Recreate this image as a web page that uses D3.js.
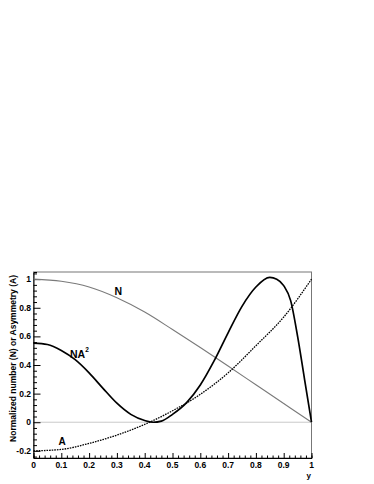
<!DOCTYPE html>
<html>
<head>
<meta charset="utf-8">
<script src="https://cdn.jsdelivr.net/npm/d3@7"></script>
<style>
  html, body { margin: 0; padding: 0; background: #fff; }
  svg { display: block; }
  text { font-family: "Liberation Sans", Arial, Helvetica, sans-serif; font-weight: bold; }
</style>
</head>
<body>
<svg id="chart" width="374" height="484"></svg>
<script>
// values
const ySamples = [0, 0.1, 0.2, 0.3, 0.4, 0.5, 0.6, 0.7, 0.8, 0.9, 1.0];
const nValues = [1.0, 0.985, 0.945, 0.87, 0.77, 0.648, 0.522, 0.393, 0.262, 0.131, 0];
const aValues = [-0.2, -0.19, -0.148, -0.09, -0.015, 0.08, 0.195, 0.345, 0.535, 0.735, 1.0];

const na2Y = [0, 0.05, 0.1, 0.15, 0.2, 0.25, 0.3, 0.35, 0.4, 0.43, 0.46, 0.5, 0.55, 0.6, 0.65, 0.7, 0.75, 0.8, 0.85, 0.875, 0.9, 0.925, 0.95, 0.975, 1.0];
const na2Values = [0.553, 0.543, 0.502, 0.437, 0.345, 0.237, 0.133, 0.055, 0.012, 0.0, 0.008, 0.055, 0.135, 0.26, 0.43, 0.625, 0.81, 0.945, 1.012, 1.0, 0.955, 0.85, 0.6, 0.3, 0];

const xMajor = [0, 0.1, 0.2, 0.3, 0.4, 0.5, 0.6, 0.7, 0.8, 0.9, 1];
const yMajor = [-0.2, 0, 0.2, 0.4, 0.6, 0.8, 1];
const xLabels = ["0", "0.1", "0.2", "0.3", "0.4", "0.5", "0.6", "0.7", "0.8", "0.9", "1"];
const yLabels = ["-0.2", "0", "0.2", "0.4", "0.6", "0.8", "1"];

const svg = d3.select("#chart");

// frame in pixels
const frameL = 33.5, frameR = 311.5, frameT = 272, frameB = 458;

const x = d3.scaleLinear().domain([0, 1]).range([frameL, frameR]);
const y = d3.scaleLinear().domain([-0.25, 1.05]).range([frameB, frameT]);

// frame (top/right grey)
svg.append("rect")
  .attr("x", frameL).attr("y", frameT)
  .attr("width", frameR - frameL).attr("height", frameB - frameT)
  .attr("fill", "none")
  .attr("stroke", "#777")
  .attr("stroke-width", 1);

// zero line
svg.append("line")
  .attr("x1", x(0)).attr("x2", x(1))
  .attr("y1", y(0)).attr("y2", y(0))
  .attr("stroke", "#777")
  .attr("stroke-width", 0.8)
  .attr("stroke-dasharray", "1,1");

// axes, ticks drawn inside
const xMinor = d3.range(0, 1.0001, 0.02).filter(v => Math.abs(v * 10 - Math.round(v * 10)) > 1e-6);
const yMinor = d3.range(-0.24, 1.0401, 0.04).filter(v => Math.abs(v * 5 - Math.round(v * 5)) > 1e-6);

const gx = svg.append("g").attr("transform", `translate(0,${frameB})`);
gx.call(d3.axisTop(x).tickValues(xMajor).tickSize(5).tickFormat(""));
gx.append("g").call(d3.axisTop(x).tickValues(xMinor).tickSize(2.5).tickFormat(""));
gx.selectAll("path.domain").attr("stroke", "#000");
gx.selectAll("line").attr("stroke", "#000");
gx.select("g path.domain").remove();

gx.selectAll(".lbl")
  .data(xMajor)
  .enter()
  .append("text")
  .attr("x", d => x(d))
  .attr("y", 9.5)
  .attr("text-anchor", "middle")
  .attr("font-size", 8.5)
  .attr("fill", "#000")
  .text((d, i) => xLabels[i]);

const gy = svg.append("g").attr("transform", `translate(${frameL},0)`);
gy.call(d3.axisRight(y).tickValues(yMajor).tickSize(7).tickFormat(""));
gy.append("g").call(d3.axisRight(y).tickValues(yMinor).tickSize(3.5).tickFormat(""));
gy.selectAll("path.domain").attr("stroke", "#000");
gy.selectAll("line").attr("stroke", "#000");
gy.select("g path.domain").remove();

gy.selectAll(".lbl")
  .data(yMajor)
  .enter()
  .append("text")
  .attr("x", -2.5)
  .attr("y", d => y(d) + 3)
  .attr("text-anchor", "end")
  .attr("font-size", 8.5)
  .attr("fill", "#000")
  .text((d, i) => yLabels[i]);

// axis titles
svg.append("text")
  .attr("x", frameR - 0.5)
  .attr("y", 477.5)
  .attr("text-anchor", "end")
  .attr("font-size", 8)
  .text("y");

svg.append("text")
  .attr("transform", `translate(15.5,275) rotate(-90)`)
  .attr("text-anchor", "end")
  .attr("font-size", 8.5)
  .text("Normalized number (N) or Asymmetry (A)");

// curves
const line = d3.line()
  .x(d => x(d[0]))
  .y(d => y(d[1]))
  .curve(d3.curveMonotoneX);

svg.append("path")
  .datum(ySamples.map((v, i) => [v, nValues[i]]))
  .attr("d", line)
  .attr("fill", "none")
  .attr("stroke", "#7a7a7a")
  .attr("stroke-width", 1.1);

svg.append("path")
  .datum(ySamples.map((v, i) => [v, aValues[i]]))
  .attr("d", line)
  .attr("fill", "none")
  .attr("stroke", "#000")
  .attr("stroke-width", 1.3)
  .attr("stroke-dasharray", "1.6,1");

svg.append("path")
  .datum(na2Y.map((v, i) => [v, na2Values[i]]))
  .attr("d", line)
  .attr("fill", "none")
  .attr("stroke", "#000")
  .attr("stroke-width", 1.7);

// curve labels
svg.append("text")
  .attr("x", 114.5).attr("y", 294.5)
  .attr("font-size", 10.5)
  .text("N");

const na2Label = svg.append("text")
  .attr("x", 70).attr("y", 357.5)
  .attr("font-size", 10.5);
na2Label.append("tspan").text("NA");
na2Label.append("tspan")
  .attr("dy", -6)
  .attr("font-size", 6.5)
  .text("2");

svg.append("text")
  .attr("x", 58.5).attr("y", 444.5)
  .attr("font-size", 10)
  .text("A");
</script>
</body>
</html>
